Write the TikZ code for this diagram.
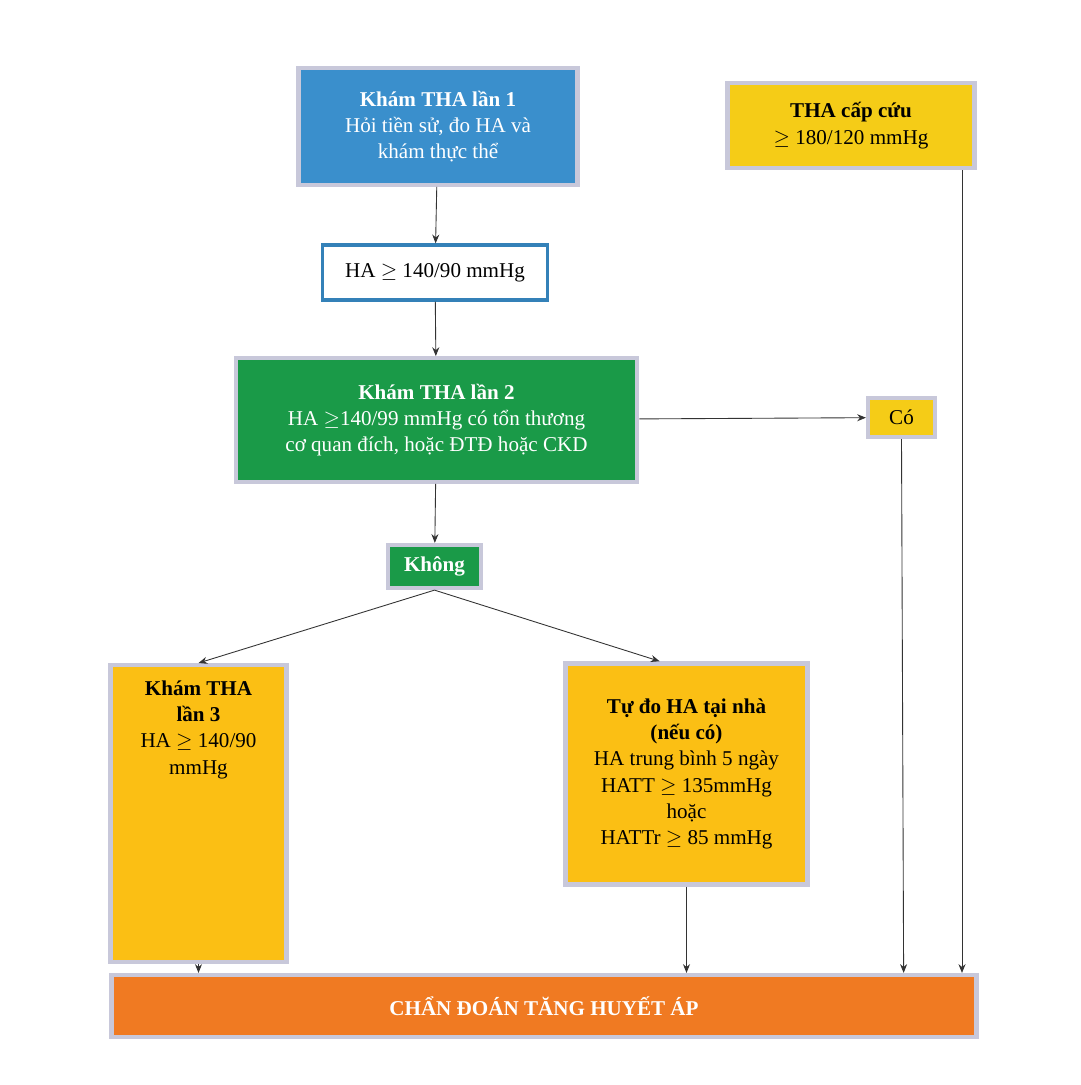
\documentclass[tikz,border=0pt]{standalone}
\usepackage{fontspec}
\setmainfont{Liberation Serif}
\usetikzlibrary{arrows.meta}
\definecolor{bl}{HTML}{3A8FCC}
\definecolor{gr}{HTML}{1A9A48}
\definecolor{ye}{HTML}{F5CC17}
\definecolor{ye2}{HTML}{FBBF14}
\definecolor{orr}{HTML}{F07A22}
\definecolor{bd}{HTML}{C8C8DA}
\begin{document}
\begin{tikzpicture}[x=0.02cm,y=-0.02cm,
 box/.style={draw=bd,line width=2.5pt,align=center,inner sep=0pt,font=\fontsize{12}{15}\selectfont},
 ar/.style={-{Stealth[length=5pt,width=4pt]},line width=0.5pt,black!80}]
\useasboundingbox (0,0) rectangle (1080,1085);
\fill[white] (0,0) rectangle (1080,1085);
\node[box,fill=bl,text=white,minimum width=280*0.567pt,minimum height=117*0.567pt] (k1) at (438,126.5) {\textbf{Khám THA lần 1}\\Hỏi tiền sử, đo HA và\\khám thực thể};
\node[box,draw=bl!90!black,line width=2pt,fill=white,minimum width=226*0.567pt,minimum height=55*0.567pt] (ha) at (435,272.5) {HA $\geq$ 140/90 mmHg};
\node[box,fill=gr,text=white,minimum width=403*0.567pt,minimum height=124*0.567pt] (k2) at (436.5,420) {\textbf{Khám THA lần 2}\\HA $\geq$140/99 mmHg có tổn thương\\cơ quan đích, hoặc ĐTĐ hoặc CKD};
\node[box,fill=gr,text=white,minimum width=93*0.567pt,minimum height=43*0.567pt] (kh) at (434.5,566.5) {\textbf{Không}};
\node[box,fill=ye,minimum width=67*0.567pt,minimum height=39*0.567pt] (co) at (901.5,417.5) {Có};
\node[box,fill=ye,minimum width=248*0.567pt,minimum height=85*0.567pt] (cc) at (851,125.5) {\textbf{THA cấp cứu}\\$\geq$ 180/120 mmHg};
\node[box,fill=ye2,minimum width=177*0.567pt,minimum height=222*0.567pt,anchor=north] (k3) at (198.5,663) {\\[2pt]\textbf{Khám THA}\\\textbf{lần 3}\\HA $\geq$ 140/90\\mmHg\\[92pt]};
\node[box,fill=ye2,minimum width=243*0.567pt,minimum height=222*0.567pt] (td) at (686.5,774) {\textbf{Tự đo HA tại nhà}\\\textbf{(nếu có)}\\HA trung bình 5 ngày\\HATT $\geq$ 135mmHg\\hoặc\\HATTr $\geq$ 85 mmHg};
\node[box,fill=orr,text=white,minimum width=868*0.567pt,minimum height=62*0.567pt] (cd) at (544,1006) {\textbf{CHẨN ĐOÁN TĂNG HUYẾT ÁP}};
\draw[ar] (k1) -- (ha);
\draw[ar] (ha) -- (k2);
\draw[ar] (k2) -- (co);
\draw[ar] (k2) -- (kh);
\draw[ar] (kh.south) -- (k3.north);
\draw[ar] (kh.south) -- ([xshift=-27*0.567pt]td.north);
\draw[ar] (k3.south) -- (k3.south|-cd.north);
\draw[ar] (td.south) -- (td.south|-cd.north);
\draw[ar] (co.south) -- ([xshift=361*0.567pt]cd.north);
\draw[ar] (cc.south-|962,0) coordinate (c1) -- (c1|-cd.north);
\end{tikzpicture}
\end{document}
